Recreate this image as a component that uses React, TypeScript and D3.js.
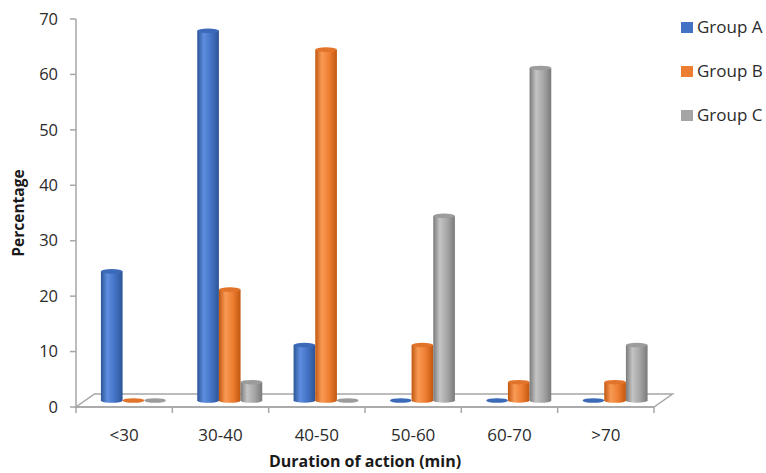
import React from 'react';
import * as d3 from 'd3';

const categories = ['<30', '30-40', '40-50', '50-60', '60-70', '>70'];
const groups = ['Group A', 'Group B', 'Group C'];
const groupA = [23.3, 66.7, 10, 0, 0, 0];
const groupB = [0, 20, 63.3, 10, 3.3, 3.3];
const groupC = [0, 3.3, 0, 33.3, 60, 10];
const yTicks = [0, 10, 20, 30, 40, 50, 60, 70];

// shading per group: [dark edge, highlight, base, top cap]
const shades = [
  ['#2D5596', '#5E8EE0', '#4472C4', '#3C69B8'],
  ['#C2570F', '#F89A55', '#ED7D31', '#E2732A'],
  ['#7A7A7A', '#C4C4C4', '#A5A5A5', '#9C9C9C'],
];

const W = 766;
const H = 473;
const margin = { top: 19, right: 112, bottom: 66, left: 76 };
const depthX = 18.5;
const depthY = -13;
const font = "'Open Sans', sans-serif";

const App: React.FC = () => {
  const series = [groupA, groupB, groupC];
  const x0 = d3.scaleBand<string>()
    .domain(categories)
    .range([margin.left, W - margin.right])
    .padding(0);
  const y = d3.scaleLinear().domain([0, 70]).range([H - margin.bottom, margin.top]);
  const groupW = 65;
  const x1 = d3.scaleBand<string>().domain(groups).range([-groupW / 2, groupW / 2]).padding(0);

  const base = y(0);
  const left = margin.left;
  const right = W - margin.right;
  const ry = 2.3;

  const floor = [
    [left, base], [right, base], [right + depthX, base + depthY], [left + depthX, base + depthY],
  ].map(p => p.join(',')).join(' ');

  const bars: React.ReactNode[] = [];
  categories.forEach((c, ci) => {
    groups.forEach((g, gi) => {
      const v = series[gi][ci];
      const cx = (x0(c) || 0) + x0.bandwidth() / 2 + depthX / 2;
      const bx0 = cx + (x1(g) || 0);
      const bw = x1.bandwidth();
      const rx = bw / 2;
      const yb = base + depthY / 2;
      const yt = y(v) + depthY / 2;
      const key = `${ci}-${gi}`;
      if (v > 0) {
        bars.push(
          <path key={key + 'b'}
            d={`M${bx0},${yt} L${bx0},${yb} A${rx},${ry} 0 0 0 ${bx0 + bw},${yb} L${bx0 + bw},${yt} Z`}
            fill={`url(#grad${gi})`} />
        );
      }
      bars.push(
        <ellipse key={key + 't'} cx={bx0 + rx} cy={yt} rx={rx} ry={ry} fill={shades[gi][3]} />
      );
    });
  });

  return (
    <svg width={W} height={H} style={{ position: 'absolute', left: 0, top: 0, background: '#fff' }}>
      <defs>
        {shades.map((s, i) => (
          <linearGradient key={i} id={`grad${i}`} x1="0" x2="1" y1="0" y2="0">
            <stop offset="0%" stopColor={s[0]} />
            <stop offset="30%" stopColor={s[1]} />
            <stop offset="65%" stopColor={s[2]} />
            <stop offset="100%" stopColor={s[0]} />
          </linearGradient>
        ))}
      </defs>

      {/* floor */}
      <polygon points={floor} fill="#fff" stroke="#A6A6A6" strokeWidth={1.5} />

      {/* y axis */}
      <line x1={left} x2={left} y1={y(70)} y2={base + 6} stroke="#A6A6A6" strokeWidth={1.5} />
      {yTicks.map(t => (
        <g key={t}>
          <line x1={left - 6} x2={left} y1={y(t)} y2={y(t)} stroke="#A6A6A6" strokeWidth={1.5} />
          <text x={left - 18} y={y(t)} dy="0.35em" textAnchor="end" fontFamily={font}
            fontSize={16.5} fill="#2b2b2b">{t}</text>
        </g>
      ))}

      {/* x axis */}
      <line x1={left} x2={right} y1={base} y2={base} stroke="#A6A6A6" strokeWidth={1.5} />
      {categories.map((c, i) => (
        <line key={'t' + i} x1={(x0(c) || 0) + x0.bandwidth()} x2={(x0(c) || 0) + x0.bandwidth()}
          y1={base} y2={base + 6} stroke="#A6A6A6" strokeWidth={1.5} />
      ))}
      {categories.map(c => (
        <text key={c} x={(x0(c) || 0) + x0.bandwidth() / 2} y={441} textAnchor="middle"
          fontFamily={font} fontSize={17} fill="#2b2b2b">{c}</text>
      ))}

      {bars}

      {/* axis titles */}
      <text x={(left + right) / 2} y={467} textAnchor="middle" fontFamily={font}
        fontSize={16} fontWeight="bold" fill="#1a1a1a">Duration of action (min)</text>
      <text transform={`translate(24,${(y(70) + base) / 2}) rotate(-90)`} textAnchor="middle"
        fontFamily={font} fontSize={15.5} fontWeight="bold" fill="#1a1a1a">Percentage</text>

      {/* legend */}
      {groups.map((g, i) => (
        <g key={g} transform={`translate(681,${22 + i * 44})`}>
          <rect width={12} height={11} fill={shades[i][2]} />
          <text x={16} y={11} fontFamily={font} fontSize={17} fill="#2b2b2b">{g}</text>
        </g>
      ))}
    </svg>
  );
};

export default App;
